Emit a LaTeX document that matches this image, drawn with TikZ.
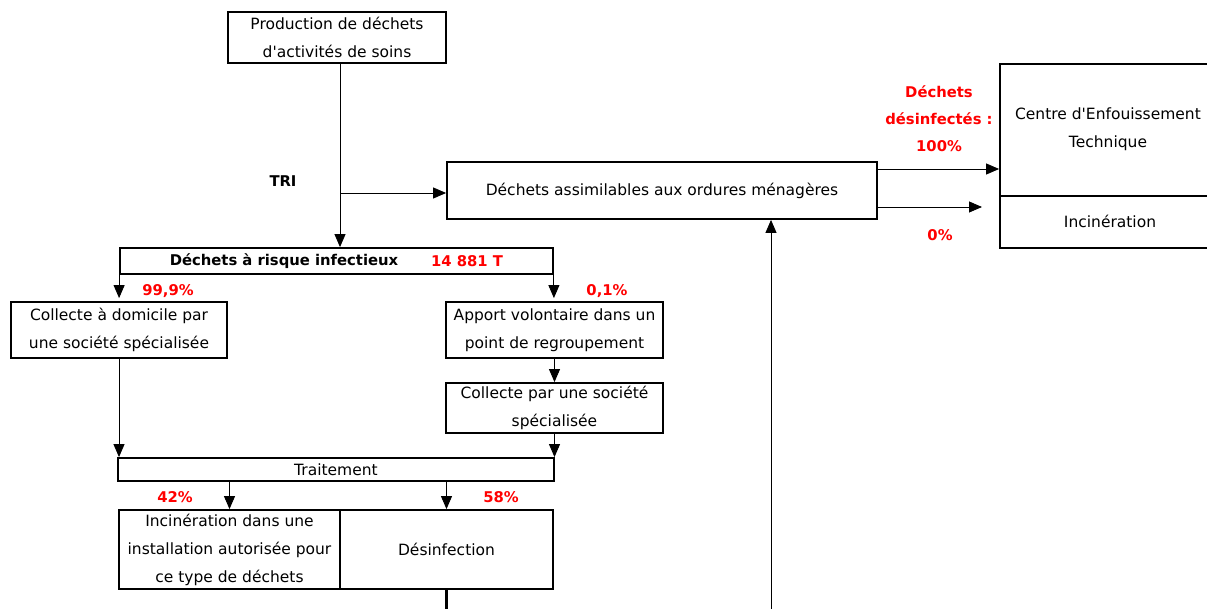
\documentclass[tikz,border=0pt]{standalone}
\usepackage{fontspec}
\setmainfont{DejaVu Sans}[Ligatures=TeXOff]
\usetikzlibrary{arrows.meta}
\newcommand\fsz{\fontsize{15.5}{28}\selectfont}
\newcommand\fbz{\fontsize{14.8}{27}\selectfont\bfseries}
\begin{document}
\begin{tikzpicture}[x=1pt,y=-1pt,
 box/.style={draw,line width=1.8pt,inner sep=0pt,font=\fsz,align=center},
 conn/.style={line width=0.9pt,-{Triangle[length=13pt,width=11pt]}},
 lab/.style={font=\fbz,text=red,align=center,inner sep=0pt},
 txt/.style={font=\fsz,align=center,inner sep=0pt}]
\useasboundingbox (0,0) rectangle (1207,609);
% boxes
\node[box,minimum width=218pt,minimum height=51pt] (prod) at (337,37.5) {Production de déchets\\d'activités de soins};
\node[box,minimum width=430pt,minimum height=57pt] (dam) at (662,190.5) {Déchets assimilables aux ordures ménagères};
\node[box,minimum width=220pt,minimum height=132pt] (cet) at (1110,130) {};
\node[txt] at (1108,129.5) {Centre d'Enfouissement\\Technique};
\node[box,minimum width=220pt,minimum height=52pt] (inc1) at (1110,222) {};
\node[txt] at (1110,221) {Incinération};
\node[box,minimum width=433pt,minimum height=26pt] (dri) at (336.5,261) {};
\node[txt,font=\fbz] (drit) at (284,261) {Déchets à risque infectieux};
\node[lab] (drin) at (467,261) {14 881 T};
\node[box,minimum width=216pt,minimum height=56pt] (cad) at (119,330) {Collecte à domicile par\\une société spécialisée};
\node[box,minimum width=217pt,minimum height=56pt] (apv) at (554.5,330) {Apport volontaire dans un\\point de regroupement};
\node[box,minimum width=217pt,minimum height=50pt] (cps) at (554.5,408) {Collecte par une société\\spécialisée};
\node[box,minimum width=436pt,minimum height=23pt] (trt) at (336,469.5) {Traitement};
\node[box,minimum width=221pt,minimum height=79pt] (inc2) at (229.5,549.5) {Incinération dans une\\installation autorisée pour\\ce type de déchets};
\node[box,minimum width=213pt,minimum height=79pt] (des) at (446.5,549.5) {Désinfection};
% labels
\node[txt,font=\fbz] (tri) at (283,181) {TRI};
\node[lab] (l100) at (939,119) {Déchets\\désinfectés :\\100\%};
\node[lab] (l0) at (940,235) {0\%};
\node[lab] (l999) at (168,291) {99,9\%};
\node[lab] (l01) at (607,291) {0,1\%};
\node[lab] (l42) at (175,497) {42\%};
\node[lab] (l58) at (501,497) {58\%};
% coordinates
\coordinate (tj) at (340,193);
\coordinate (o1) at (877,169);
\coordinate (o2) at (877,207);
\coordinate (o2e) at (982,207);
\coordinate (b1) at (771,609);
\coordinate (b2) at (446.5,609);
% connectors
\draw[conn] (prod.south -| tj) -- (dri.north -| tj);
\draw[conn] (tj) -- (dam.west |- tj);
\draw[conn] (dam.east |- o1) -- (cet.west |- o1);
\draw[conn] (dam.east |- o2) -- (o2e);
\draw[conn] (b1) -- (dam.south -| b1);
\draw[conn,shorten >=3pt] (dri.south west) -- (dri.south west |- cad.north);
\draw[conn,shorten >=3pt] (dri.south east) -- (dri.south east |- apv.north);
\draw[conn] (cad.south) -- (cad.south |- trt.north);
\draw[conn] (apv.south) -- (cps.north);
\draw[conn] (cps.south) -- (cps.south |- trt.north);
\draw[conn] (trt.south -| inc2.north) -- (inc2.north);
\draw[conn] (trt.south -| des.north) -- (des.north);
\draw[line width=2.2pt] (des.south) -- (b2);
\end{tikzpicture}
\end{document}
